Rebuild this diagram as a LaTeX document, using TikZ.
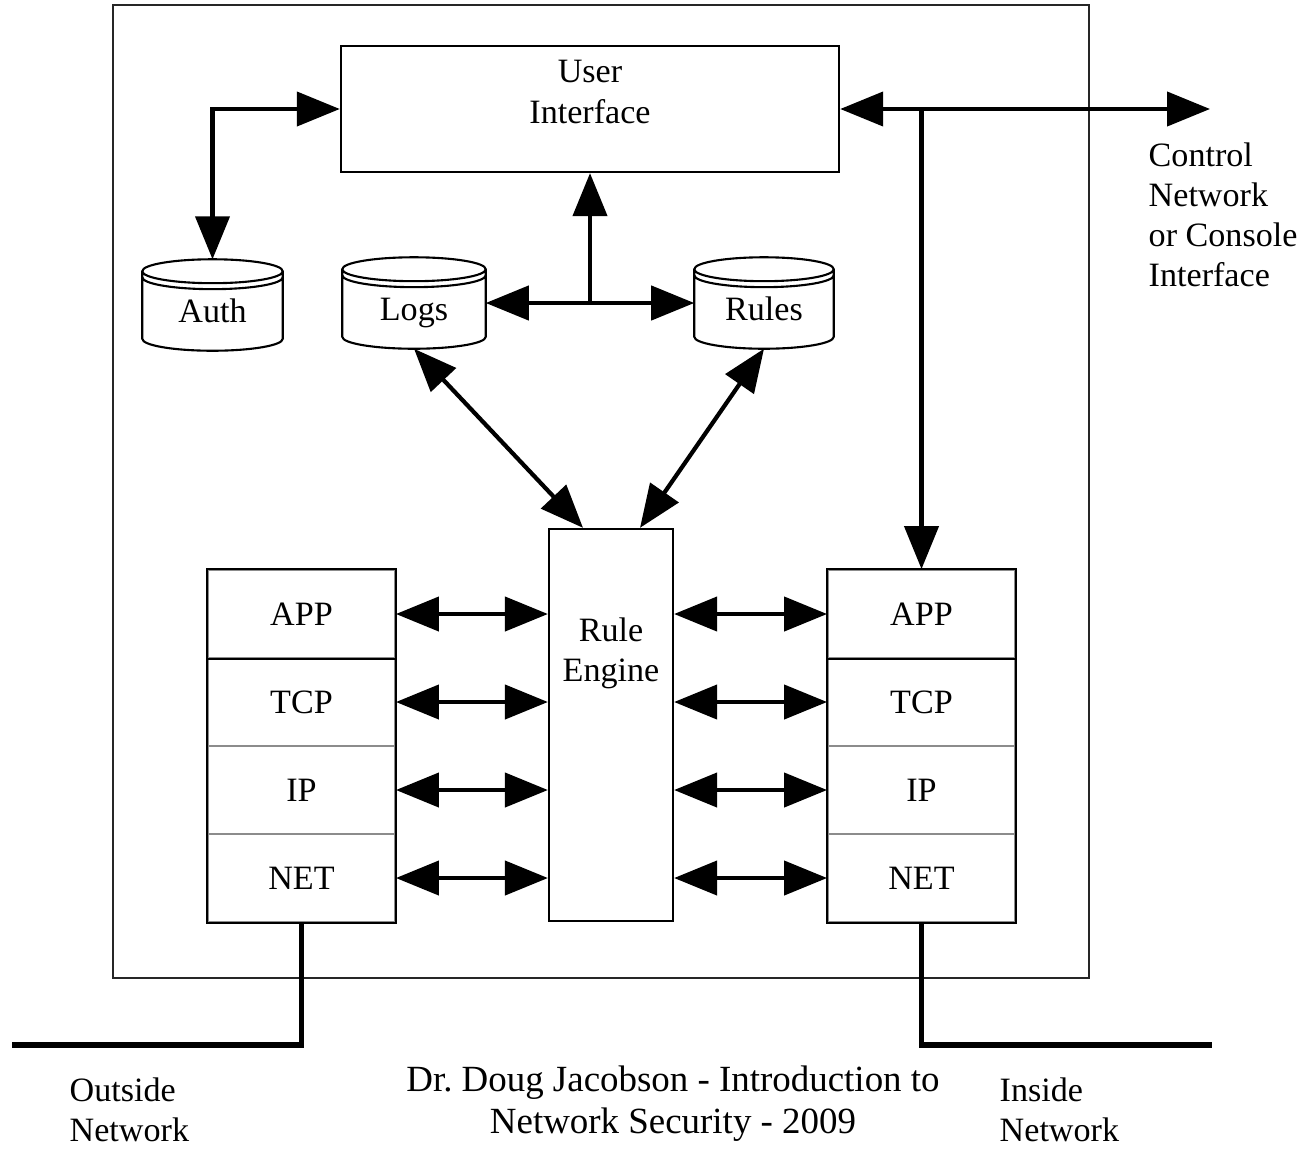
\documentclass[tikz,border=0pt]{standalone}
\usepackage{fontspec}
\setmainfont{Liberation Serif}
\usetikzlibrary{arrows.meta,calc}
\frenchspacing

% outline of a database drum drawn around a named node
\newcommand\drumoutline[1]{%
  \draw[line width=0.6pt]
    let \p1=(#1.north west), \p2=(#1.south east) in
    ({(\x1+\x2)/2},{\y1-3.4pt}) ellipse [x radius={(\x2-\x1)/2}, y radius=3.4pt]
    (\x1,{\y1-5.1pt}) arc [start angle=180, end angle=360, x radius={(\x2-\x1)/2}, y radius=3.4pt]
    (\x1,{\y1-3.4pt}) -- (\x1,{\y2+3.4pt})
      arc [start angle=180, end angle=360, x radius={(\x2-\x1)/2}, y radius=3.4pt]
      -- (\x2,{\y1-3.4pt});}

\begin{document}
\begin{tikzpicture}[x=0.01cm, y=-0.01cm,
  txt/.style={font=\fontsize{9.7}{11.4}\selectfont},
  box/.style={draw, line width=0.6pt, inner sep=0pt},
  layer/.style={draw=black!45, line width=0.5pt, minimum width=1.87cm,
    minimum height=0.88cm, inner sep=0pt, txt},
  dbnode/.style={minimum width=#1, minimum height=0.9cm, inner sep=0pt, txt,
    text height=9.7pt, text depth=0pt},
  biarrow/.style={line width=1.2pt,
    {Triangle[length=0.43cm,width=0.34cm]}-{Triangle[length=0.43cm,width=0.34cm]}},
  onearrow/.style={line width=1.2pt, -{Triangle[length=0.43cm,width=0.34cm]}},
  wire/.style={line width=1.6pt},
  caption/.style={txt, align=left, anchor=west, inner sep=0pt}]

\useasboundingbox (0,0) rectangle (1307,1148);

% firewall enclosure
\draw[line width=0.6pt, black!85] (113,5) rectangle (1089,978);

% user interface
\node[box, minimum width=4.98cm, minimum height=1.26cm,
  label={[txt, align=center, yshift=0.17cm]center:User\\Interface}]
  (ui) at (590,109) {};

% data stores
\node[dbnode=1.39cm] (auth)  at (212.5,305) {Auth};
\node[dbnode=1.42cm] (logs)  at (414,303)   {Logs};
\node[dbnode=1.38cm] (rules) at (764,303)   {Rules};
\drumoutline{auth}
\drumoutline{logs}
\drumoutline{rules}

% rule engine
\node[box, minimum width=1.24cm, minimum height=3.92cm,
  label={[txt, align=center, yshift=0.72cm]center:Rule\\Engine}]
  (engine) at (611,725) {};

% protocol stacks
\foreach \n/\t [count=\i] in {app/APP,tcp/TCP,ip/IP,net/NET} {
  \node[layer] (l\n) at (301.5,{570+88*\i-44}) {\t};
  \node[layer] (r\n) at (921.5,{570+88*\i-44}) {\t};
}
\foreach \s in {l,r} {
  \draw[line width=0.6pt] (\s app.north west) rectangle (\s net.south east);
  \draw[line width=0.6pt] (\s app.south west) -- (\s app.south east);
}

% connectors
\coordinate (ctl) at (1210,109);
\draw[biarrow] (ui.west) -| (auth.north);
\draw[biarrow] (ui.east) -- (ctl);
\draw[onearrow] (ui.east -| rapp.north) -- (rapp.north);
\draw[biarrow] (logs.east) -- (logs.east -| rules.west);
\draw[onearrow] (ui.south |- logs.east) -- (ui.south);
\draw[biarrow] (logs.south) -- ($(engine.north)+(-28,0)$);
\draw[biarrow] (rules.south) -- ($(engine.north)+(29,0)$);
\foreach \n in {app,tcp,ip,net} {
  \draw[biarrow] (l\n.east) -- (l\n.east -| engine.west);
  \draw[biarrow] (engine.east |- r\n.west) -- (r\n.west);
}

% network attachments
\coordinate (outside) at (12,1045);
\coordinate (inside)  at (1212,1045);
\draw[wire] (lnet.south) |- (outside);
\draw[wire] (rnet.south) |- (inside);

% captions
\node[caption] (ctltext) at (1148,215) {Control\\Network\\or Console\\Interface};
\node[caption] (outlbl) at (69,1110) {Outside\\Network};
\node[caption] (inlbl)  at (999,1110) {Inside\\Network};
\node[font=\fontsize{10.5}{12}\selectfont, align=center, inner sep=0pt]
  (credit) at (673,1104) {Dr. Doug Jacobson - Introduction to\\Network Security - 2009};
\end{tikzpicture}
\end{document}
